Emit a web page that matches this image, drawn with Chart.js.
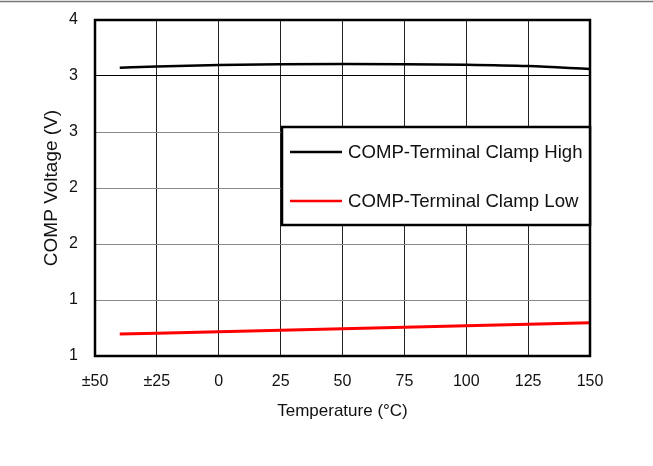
<!DOCTYPE html>
<html>
<head>
<meta charset="utf-8">
<script src="https://cdn.jsdelivr.net/npm/chart.js@4/dist/chart.umd.min.js"></script>
<style>
  html, body { margin: 0; padding: 0; background: #fff; }
  #wrap { width: 653px; height: 466px; }
</style>
</head>
<body>
<div id="wrap"><canvas id="chart"></canvas></div>
<script>
// temperatures (°C)
const temps = [-40, -25, 0, 25, 50, 75, 100, 125, 150];
// COMP voltage (V)
const clampHigh = [3.574, 3.585, 3.598, 3.606, 3.607, 3.606, 3.601, 3.589, 3.563];
const clampLow = [1.196, 1.204, 1.217, 1.230, 1.244, 1.257, 1.270, 1.284, 1.297];

const xTickValues = [-50, -25, 0, 25, 50, 75, 100, 125, 150];
const xTickLabels = ["±50", "±25", "0", "25", "50", "75", "100", "125", "150"];
const yTickValues = [1, 1.5, 2, 2.5, 3, 3.5, 4];
const yTickLabels = ["1", "1", "2", "2", "3", "3", "4"];

const seriesNames = ["COMP-Terminal Clamp High", "COMP-Terminal Clamp Low"];
const seriesColors = ["#000000", "#ff0000"];

const FONT = "'Liberation Sans', Arial, sans-serif";

// frame, top rule and legend box inside the plot
const decorPlugin = {
  id: "decor",
  afterDatasetsDraw(chart) {
    const ctx = chart.ctx;
    const a = chart.chartArea;
    ctx.save();
    // top rule across the page
    ctx.strokeStyle = "#777";
    ctx.lineWidth = 1.5;
    ctx.beginPath();
    ctx.moveTo(0, 1.5);
    ctx.lineTo(chart.width, 1.5);
    ctx.stroke();

    // plot frame
    ctx.strokeStyle = "#000";
    ctx.lineWidth = 2.5;
    ctx.strokeRect(a.left, a.top, a.right - a.left, a.bottom - a.top);

    // legend
    const bx = 282, by = 127, bw = a.right - 282, bh = 98;
    ctx.fillStyle = "#fff";
    ctx.fillRect(bx, by, bw, bh);
    ctx.lineWidth = 2.5;
    ctx.strokeRect(bx, by, bw, bh);
    const rows = [152, 201];
    ctx.font = "18.6px " + FONT;
    ctx.textBaseline = "middle";
    ctx.textAlign = "left";
    rows.forEach((y, i) => {
      ctx.strokeStyle = seriesColors[i];
      ctx.lineWidth = 2.5;
      ctx.beginPath();
      ctx.moveTo(290, y);
      ctx.lineTo(342, y);
      ctx.stroke();
      ctx.fillStyle = "#111";
      ctx.fillText(seriesNames[i], 348, y + 1);
    });
    ctx.restore();
  }
};

new Chart(document.getElementById("chart"), {
  type: "line",
  data: {
    datasets: [
      {
        label: seriesNames[0],
        data: temps.map((t, i) => ({ x: t, y: clampHigh[i] })),
        borderColor: seriesColors[0],
        borderWidth: 2.5,
        pointRadius: 0,
        cubicInterpolationMode: "monotone",
      },
      {
        label: seriesNames[1],
        data: temps.map((t, i) => ({ x: t, y: clampLow[i] })),
        borderColor: seriesColors[1],
        borderWidth: 3,
        pointRadius: 0,
      },
    ],
  },
  options: {
    responsive: true,
    maintainAspectRatio: false,
    animation: false,
    layout: { padding: { left: 0, right: 63, top: 20, bottom: 0 } },
    plugins: {
      legend: { display: false },
      tooltip: { enabled: false },
    },
    scales: {
      x: {
        type: "linear",
        min: -50,
        max: 150,
        afterFit(s) {
          s.height = 110;
          s.paddingLeft = 0;
          s.paddingRight = 0;
        },
        afterBuildTicks(s) { s.ticks = xTickValues.map((v) => ({ value: v })); },
        grid: { color: "#222", lineWidth: 1, drawTicks: false },
        border: { display: false },
        ticks: {
          padding: 16,
          color: "#111",
          font: { family: FONT, size: 16 },
          maxRotation: 0,
          callback: (v) => xTickLabels[xTickValues.indexOf(v)],
        },
        title: {
          display: true,
          text: "Temperature (°C)",
          color: "#111",
          font: { family: FONT, size: 17 },
          padding: { top: 0, bottom: 44 },
        },
      },
      y: {
        type: "linear",
        min: 1,
        max: 4,
        afterFit(s) {
          s.width = 95;
          s.paddingTop = 0;
          s.paddingBottom = 0;
        },
        afterBuildTicks(s) { s.ticks = yTickValues.map((v) => ({ value: v })); },
        grid: {
          color: (c) => (c.tick && c.tick.value === 3.5 ? "#000" : "#888"),
          lineWidth: 1,
          drawTicks: false,
        },
        border: { display: false },
        ticks: {
          padding: 17,
          color: "#111",
          font: { family: FONT, size: 16 },
          callback: (v) => yTickLabels[yTickValues.indexOf(v)],
        },
        title: {
          display: true,
          text: "COMP Voltage (V)",
          color: "#111",
          font: { family: FONT, size: 19 },
          padding: { top: 40, bottom: 0 },
        },
      },
    },
  },
  plugins: [decorPlugin],
});
</script>
</body>
</html>
